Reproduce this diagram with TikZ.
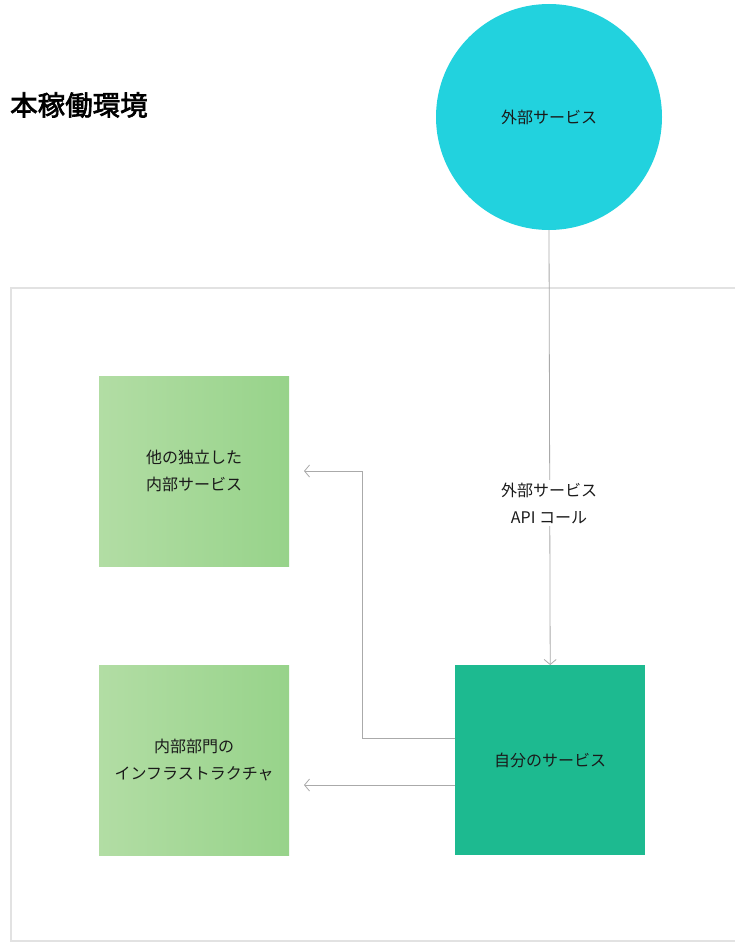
\documentclass[tikz,border=0pt]{standalone}
\usepackage{fontspec}
\setmainfont{Noto Sans CJK JP}
\newfontfamily\jpbold{Noto Sans CJK JP}[FakeBold=2.5]
\usetikzlibrary{arrows.meta,positioning}
\definecolor{cyanc}{HTML}{22D2DE}
\definecolor{greenl}{HTML}{B2DDA4}
\definecolor{greend}{HTML}{97D38A}
\definecolor{tealc}{HTML}{1DBA90}
\definecolor{linec}{HTML}{AAAAAA}
\definecolor{framec}{HTML}{E2E2E2}
\definecolor{txt}{HTML}{1A1A1A}
\begin{document}
\begin{tikzpicture}[x=1pt,y=-1pt,
  lbltext/.style={font=\fontsize{16}{27}\selectfont,text=txt,align=center},
  box/.style={lbltext,minimum width=190pt,minimum height=190pt,inner sep=0pt},
  greenbox/.style={box,left color=greenl,right color=greend},
  conn/.style={draw=linec,line width=0.8pt,-{Straight Barb[length=5pt,width=12pt,line width=0.8pt]}}
]
\useasboundingbox (0,0) rectangle (735,942);
\fill[white] (0,0) rectangle (735,942);
\node[draw=framec,line width=1.5pt,minimum width=727pt,minimum height=653pt,anchor=north west,inner sep=0pt] (env) at (10,287) {};
\node[anchor=west,font=\jpbold\fontsize{27.5}{30}\selectfont,text=black,inner sep=0pt] (title) at (10,105) {本稼働環境};
\node[circle,fill=cyanc,minimum size=226pt,inner sep=0pt,lbltext] (ext) at (549,117) {外部サービス};
\node[greenbox,anchor=north west] (other) at (99,376) {他の独立した\\内部サービス};
\node[greenbox,anchor=north west] (infra) at (99,665) {内部部門の\\インフラストラクチャ};
\node[box,fill=tealc,anchor=north west] (mine) at (455,665) {自分のサービス};
\coordinate (bend1) at (362,738);
\coordinate (bend2) at (362,471);
\coordinate (t1) at (304,471);
\coordinate (t2) at (304,785);
\draw[conn] (ext.south) -- (mine.north);
\node[fill=white,lbltext,inner sep=3pt] (lbl) at (549,503) {外部サービス\\API コール};
\draw[conn] (mine.west |- bend1) -- (bend1) -- (bend2) -- (t1);
\draw[conn] (mine.west |- t2) -- (t2);
\end{tikzpicture}
\end{document}
